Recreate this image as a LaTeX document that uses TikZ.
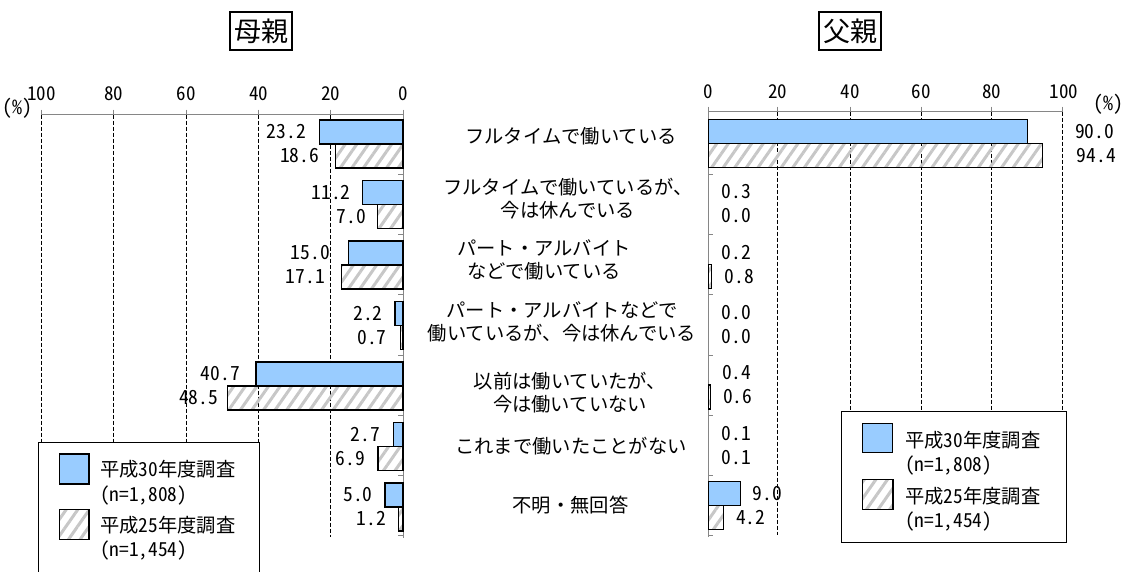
\documentclass[tikz,border=0pt]{standalone}
\usepackage{fontspec}
\setmainfont{Noto Sans CJK JP}
\newfontfamily\numfont[RawFeature=+hwid]{Noto Sans CJK JP}
\usetikzlibrary{patterns.meta}
\definecolor{bleuclair}{HTML}{99CCFF}
\definecolor{gris}{HTML}{868686}

\begin{document}
\begin{tikzpicture}[x=1pt,y=-1pt]
\tikzset{barA/.style={draw, line width=1.2pt, fill=bleuclair},
  barB/.style={draw, line width=1.2pt, pattern={Lines[angle=55,distance=9.5pt,line width=3pt]}, pattern color=black!22},
  grille/.style={line width=1pt, dash pattern=on 4pt off 2pt},
  axe/.style={draw=gris, line width=1pt},
  valg/.style={anchor=east, inner sep=0, font=\numfont\fontsize{19.5}{23}\selectfont},
  vald/.style={anchor=west, inner sep=0, font=\numfont\fontsize{19.5}{23}\selectfont},
  gradu/.style={inner sep=0, font=\numfont\fontsize{19}{21}\selectfont},
  categ/.style={align=center, inner sep=0, font=\fontsize{19.3}{23}\selectfont},
  legtxt/.style={anchor=west, inner sep=0, font=\fontsize{19.3}{23}\selectfont},
  titre/.style={draw, line width=1.2pt, minimum width=62pt, minimum height=38pt, inner sep=0, font=\fontsize{27}{30}\selectfont}}
\useasboundingbox (0,0) rectangle (1124,571);

% titles
\node[titre] (TM) at (261,31) {母親};
\node[titre] (TP) at (850,31) {父親};

% left chart: grid and axes
\draw[grille] (330.7,114.5) -- (330.7,537);
\draw[grille] (258.5,114.5) -- (258.5,537);
\draw[grille] (186.2,114.5) -- (186.2,537);
\draw[grille] (113.9,114.5) -- (113.9,537);
\draw[grille] (41.7,114.5) -- (41.7,537);
\draw[axe] (41.7,114.5) -- (403,114.5) -- (403,538);
\draw[axe] (41.7,109.5) -- (41.7,114.5) (113.9,109.5) -- (113.9,114.5) (186.2,109.5) -- (186.2,114.5)
  (258.5,109.5) -- (258.5,114.5) (330.7,109.5) -- (330.7,114.5) (403,109.5) -- (403,114.5);
\draw[axe] (398,174.5) -- (403,174.5) (398,234.7) -- (403,234.7) (398,294.8) -- (403,294.8)
  (398,355) -- (403,355) (398,415.2) -- (403,415.2) (398,475.4) -- (403,475.4) (398,535.5) -- (403,535.5);
\node[gradu] (GL100) at (41.7,93.3) {100};
\node[gradu] (GL80) at (113.9,93.3) {80};
\node[gradu] (GL60) at (186.2,93.3) {60};
\node[gradu] (GL40) at (258.5,93.3) {40};
\node[gradu] (GL20) at (330.7,93.3) {20};
\node[gradu] (GL0) at (403,93.3) {0};
\node[inner sep=0, font=\numfont\fontsize{20}{22}\selectfont] (PL) at (17.5,108.5) {(\%)};

% right chart: grid and axes
\draw[grille] (777.7,111.5) -- (777.7,535);
\draw[grille] (850,111.5) -- (850,535);
\draw[grille] (921,111.5) -- (921,535);
\draw[grille] (991.7,111.5) -- (991.7,535);
\draw[grille] (1062.7,111.5) -- (1062.7,535);
\draw[axe] (708.3,537) -- (708.3,111.5) -- (1062.7,111.5);
\draw[axe] (708.3,106.5) -- (708.3,111.5) (777.7,106.5) -- (777.7,111.5) (850,106.5) -- (850,111.5)
  (921,106.5) -- (921,111.5) (991.7,106.5) -- (991.7,111.5) (1062.7,106.5) -- (1062.7,111.5);
\draw[axe] (708.3,174.5) -- (713.3,174.5) (708.3,234.7) -- (713.3,234.7) (708.3,294.8) -- (713.3,294.8)
  (708.3,355) -- (713.3,355) (708.3,415.2) -- (713.3,415.2) (708.3,475.4) -- (713.3,475.4) (708.3,535.5) -- (713.3,535.5);
\node[gradu] (GR0) at (708.3,91.7) {0};
\node[gradu] (GR20) at (777.7,91.7) {20};
\node[gradu] (GR40) at (850,91.7) {40};
\node[gradu] (GR60) at (921,91.7) {60};
\node[gradu] (GR80) at (991.7,91.7) {80};
\node[gradu] (GR100) at (1064,91.7) {100};
\node[inner sep=0, font=\numfont\fontsize{20}{22}\selectfont] (PR) at (1108,104) {(\%)};

% left bars (mothers)
\draw[barA] ({403-3.613*23.2},120) rectangle (403,144);
\draw[barB] ({403-3.613*18.6},144) rectangle (403,168);
\draw[barA] ({403-3.613*11.2},180.5) rectangle (403,204.5);
\draw[barB] ({403-3.613*7.0},204.5) rectangle (403,228.5);
\draw[barA] ({403-3.613*15.0},241) rectangle (403,265);
\draw[barB] ({403-3.613*17.1},265) rectangle (403,289);
\draw[barA] ({403-3.613*2.2},301.5) rectangle (403,325.5);
\draw[barB] ({403-3.613*0.7},325.5) rectangle (403,349.5);
\draw[barA] ({403-3.613*40.7},362) rectangle (403,386);
\draw[barB] ({403-3.613*48.5},386) rectangle (403,410);
\draw[barA] ({403-3.613*2.7},422.5) rectangle (403,446.5);
\draw[barB] ({403-3.613*6.9},446.5) rectangle (403,470.5);
\draw[barA] ({403-3.613*5.0},483) rectangle (403,507);
\draw[barB] ({403-3.613*1.2},507) rectangle (403,531);

% right bars (fathers)
\draw[barA] (708.3,119.3) rectangle ({708.3+3.544*90.0},143.3);
\draw[barB] (708.3,143.3) rectangle ({708.3+3.544*94.4},167.3);
\draw[barB] (708.3,264.1) rectangle ({708.3+3.544*0.8},288.1);
\draw[barB] (708.3,384.9) rectangle ({708.3+3.544*0.6},408.9);
\draw[barA] (708.3,481.7) rectangle ({708.3+3.544*9.0},505.7);
\draw[barB] (708.3,505.7) rectangle ({708.3+3.544*4.2},529.7);

% left values
\node[valg] (ML1a) at (306,132) {23.2};
\node[valg] (ML1b) at (319.3,156) {18.6};
\node[valg] (ML2a) at (350.7,192.5) {11.2};
\node[valg] (ML2b) at (366,216.5) {7.0};
\node[valg] (ML3a) at (330,253) {15.0};
\node[valg] (ML3b) at (325,277) {17.1};
\node[valg] (ML4a) at (382.7,313.5) {2.2};
\node[valg] (ML4b) at (386.7,337.5) {0.7};
\node[valg] (ML5a) at (240,374) {40.7};
\node[valg] (ML5b) at (218.3,398) {48.5};
\node[valg] (ML6a) at (380,434.5) {2.7};
\node[valg] (ML6b) at (365,458.5) {6.9};
\node[valg] (ML7a) at (372.7,495) {5.0};
\node[valg] (ML7b) at (386,519) {1.2};

% right values
\node[vald] (PR1a) at (1075,131.3) {90.0};
\node[vald] (PR1b) at (1076.7,155.3) {94.4};
\node[vald] (PR2a) at (721.7,191.7) {0.3};
\node[vald] (PR2b) at (721.7,215.7) {0.0};
\node[vald] (PR3a) at (721.7,252.1) {0.2};
\node[vald] (PR3b) at (724.3,276.1) {0.8};
\node[vald] (PR4a) at (721.7,312.5) {0.0};
\node[vald] (PR4b) at (721.7,336.5) {0.0};
\node[vald] (PR5a) at (722,372.9) {0.4};
\node[vald] (PR5b) at (723,396.9) {0.6};
\node[vald] (PR6a) at (721.7,433.3) {0.1};
\node[vald] (PR6b) at (721.7,457.3) {0.1};
\node[vald] (PR7a) at (752.7,493.7) {9.0};
\node[vald] (PR7b) at (736,517.7) {4.2};

% categories
\node[categ] (C1) at (571,136.5) {フルタイムで働いている};
\node[categ] (C2) at (568,199) {フルタイムで働いているが、\\今は休んでいる};
\node[categ] (C3) at (544,260) {パート・アルバイト\\などで働いている};
\node[categ] (C4) at (562,322) {パート・アルバイトなどで\\働いているが、今は休んでいる};
\node[categ] (C5) at (570,392.5) {以前は働いていたが、\\今は働いていない};
\node[categ] (C6) at (571,446.5) {これまで働いたことがない};
\node[categ] (C7) at (570.5,505) {不明・無回答};

% left legend
\fill[white] (38.3,442.3) rectangle (259.3,575);
\draw[line width=1.2pt] (38.3,575) -- (38.3,442.3) -- (259.3,442.3) -- (259.3,575);
\draw[barA] (59.3,454) rectangle (89,484);
\draw[barB] (59.3,509.3) rectangle (89,539.3);
\node[legtxt] (LL1) at (100,469.3) {平成{\numfont 30}年度調査};
\node[legtxt, font=\numfont\fontsize{19.3}{23}\selectfont] (LL1n) at (100,495) {(n=1,808)};
\node[legtxt] (LL2) at (100,525) {平成{\numfont 25}年度調査};
\node[legtxt, font=\numfont\fontsize{19.3}{23}\selectfont] (LL2n) at (100,550) {(n=1,454)};

% right legend
\draw[line width=1.2pt, fill=white] (841.7,411.7) rectangle (1066.7,542.3);
\draw[barA] (862.3,423.3) rectangle (892.3,452.7);
\draw[barB] (862.3,479.3) rectangle (893,509.3);
\node[legtxt] (LR1) at (905,440) {平成{\numfont 30}年度調査};
\node[legtxt, font=\numfont\fontsize{19.3}{23}\selectfont] (LR1n) at (905,465) {(n=1,808)};
\node[legtxt] (LR2) at (905,496) {平成{\numfont 25}年度調査};
\node[legtxt, font=\numfont\fontsize{19.3}{23}\selectfont] (LR2n) at (905,521) {(n=1,454)};
\end{tikzpicture}
\end{document}
